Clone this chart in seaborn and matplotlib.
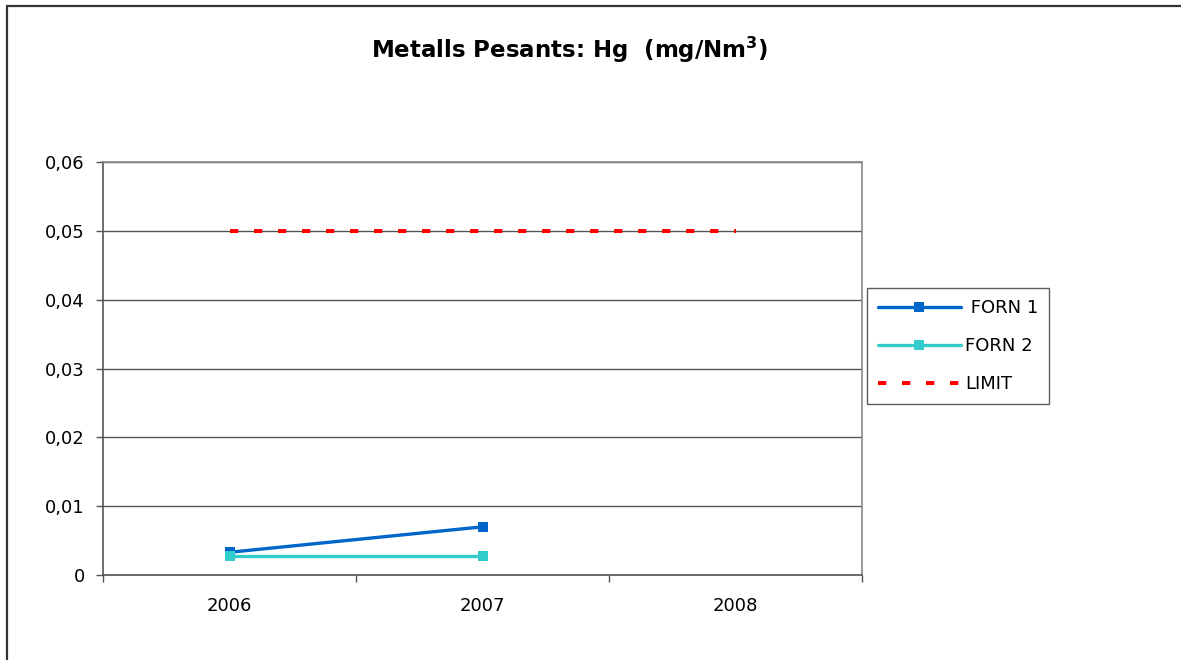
import matplotlib
matplotlib.use("Agg")
import matplotlib.pyplot as plt
from matplotlib.lines import Line2D
import seaborn as sns
import pandas as pd

# Data
years = ["2006", "2007", "2008"]
forn1 = [0.0033, 0.0070]
forn2 = [0.0028, 0.0028]
limit = [0.05, 0.05, 0.05]
series_names = [" FORN 1", "FORN 2", "LIMIT"]
y_ticks = [0, 0.01, 0.02, 0.03, 0.04, 0.05, 0.06]
y_tick_labels = ["0", "0,01", "0,02", "0,03", "0,04", "0,05", "0,06"]
title = "Metalls Pesants: Hg  (mg/Nm$\\mathregular{^3}$)"

sns.set_theme(style="white")
plt.rcParams["font.family"] = ["DejaVu Sans"]
plt.rcParams["text.color"] = "black"
plt.rcParams["xtick.color"] = "black"
plt.rcParams["ytick.color"] = "black"

fig = plt.figure(figsize=(11.81, 6.60), dpi=100)
ax = fig.add_axes([103 / 1181, 1 - 575 / 660, (862 - 103) / 1181, (575 - 162) / 660])

c1, c2, c3 = "#0066CC", "#33CCCC", "#FF0000"
lim_dash = (2.06, 3.9)

df_lim = pd.DataFrame({"year": years, "value": limit})
df1 = pd.DataFrame({"year": years[:len(forn1)], "value": forn1})
df2 = pd.DataFrame({"year": years[:len(forn2)], "value": forn2})

sns.lineplot(data=df_lim, x="year", y="value", ax=ax, color=c3, lw=2.9,
             dashes=False, sort=False, zorder=3)
lim_line = ax.lines[-1]
lim_line.set_dashes(lim_dash)
lim_line.set_dash_capstyle("butt")
sns.lineplot(data=df1, x="year", y="value", ax=ax, color=c1, lw=2.4,
             marker="s", markersize=7.8, markeredgewidth=0, sort=False, zorder=3.5)
sns.lineplot(data=df2, x="year", y="value", ax=ax, color=c2, lw=2.4,
             marker="s", markersize=7.8, markeredgewidth=0, sort=False, zorder=4)

ax.set_xlim(-0.5, 2.5)
ax.set_ylim(0, 0.06)
ax.set_yticks(y_ticks)
ax.set_yticklabels(y_tick_labels)
ax.set_xticks([-0.5, 0.5, 1.5, 2.5])
ax.set_xticklabels([])
ax.set_xticks([0, 1, 2], minor=True)
ax.set_xticklabels(years, minor=True)
ax.tick_params(axis="x", which="major", length=5, width=1, color="#555555", direction="out", bottom=True)
ax.tick_params(axis="x", which="minor", length=0, pad=15.5, labelsize=13, labelcolor="black")
ax.tick_params(axis="y", length=5, width=1, color="#555555", direction="out", left=True,
               labelsize=13, labelcolor="black", pad=8)
ax.set_xlabel("")
ax.set_ylabel("")

ax.yaxis.grid(True, color="#555555", lw=1)
ax.set_axisbelow(True)
for side in ["left", "bottom"]:
    ax.spines[side].set_color("#555555")
    ax.spines[side].set_linewidth(1.2)
for side in ["top", "right"]:
    ax.spines[side].set_color("#888888")
    ax.spines[side].set_linewidth(1.2)

handles = [
    Line2D([], [], color=c1, lw=2.4, marker="s", markersize=7.8, markeredgewidth=0),
    Line2D([], [], color=c2, lw=2.4, marker="s", markersize=7.8, markeredgewidth=0),
    Line2D([], [], color=c3, lw=2.9, dashes=lim_dash, dash_capstyle="butt"),
]
leg = fig.legend(handles, series_names,
                 loc="upper left", bbox_to_anchor=(867 / 1181, 1 - 288 / 660),
                 frameon=True, fancybox=False, fontsize=13, handlelength=4.6,
                 handletextpad=0.25, labelspacing=1.12, borderpad=0.6, borderaxespad=0)
leg.get_frame().set_edgecolor("#333333")
leg.get_frame().set_linewidth(1.0)

fig.text(570 / 1181, 1 - 50 / 660, title, ha="center", va="center",
         fontsize=16.5, fontweight="bold")

# Chart-area border (top and left edges)
fig.add_artist(Line2D([6.5 / 1181, 6.5 / 1181], [0, 1 - 5.5 / 660], color="#333333", lw=1.6,
                      transform=fig.transFigure))
fig.add_artist(Line2D([6.5 / 1181, 1], [1 - 5.5 / 660, 1 - 5.5 / 660], color="#333333", lw=1.6,
                      transform=fig.transFigure))

fig.savefig("out.png", dpi=100, facecolor="white")
